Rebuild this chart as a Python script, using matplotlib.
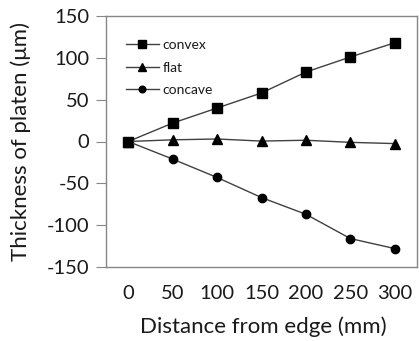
import numpy as np
import matplotlib.pyplot as plt

plt.rcParams['font.family'] = ['Lato', 'DejaVu Sans']
plt.rcParams['axes.unicode_minus'] = False

distance = [0, 50, 100, 150, 200, 250, 300]
convex = [0, 22, 40, 58, 83, 101, 118]
flat = [0, 2, 3, 0.5, 1.5, -1, -2.5]
concave = [0, -21, -43, -67, -87, -116, -128]

txt = '#1a1a1a'
grey = '#868686'

fig = plt.figure(figsize=(4.19, 3.41), dpi=100)
ax = fig.add_axes([106 / 419, 1 - 267 / 341, 311 / 419, 251 / 341])

x = np.arange(len(distance))
ax.plot(x, convex, color='#404040', lw=1, marker='s', ms=7.5, mfc='k', mec='k', label='convex')
ax.plot(x, flat, color='#404040', lw=1, marker='^', ms=6.5, mfc='k', mec='k', label='flat')
ax.plot(x, concave, color='#404040', lw=1, marker='o', ms=6, mfc='k', mec='k', label='concave')

ax.set_xlim(-0.5, len(distance) - 0.5)
ax.set_ylim(-150, 150)
ax.set_xticks(x)
ax.set_xticklabels([str(d) for d in distance])
ax.set_yticks(range(-150, 151, 50))

for s in ax.spines.values():
    s.set_color(grey)
    s.set_linewidth(1)
ax.tick_params(axis='y', direction='out', length=7, color=grey, labelsize=14.5, labelcolor=txt, pad=5)
ax.tick_params(axis='x', length=0, labelsize=14.5, labelcolor=txt, pad=13)

ax.set_xlabel('Distance from edge (mm)', fontsize=16, color=txt)
ax.set_ylabel('Thickness of platen (\u03bcm)', fontsize=16, color=txt)
ax.xaxis.set_label_coords((263 - 106) / 311, (267 - 327) / 251)
ax.yaxis.set_label_coords((21 - 106) / 311, 0.5)
ax.xaxis.label.set_va('center')
ax.yaxis.label.set_va('center')

leg = ax.legend(loc='upper left', bbox_to_anchor=(0.045, 0.93), frameon=False,
                fontsize=10, handlelength=2.4, handletextpad=0.25, labelspacing=0.75,
                markerscale=0.8, borderaxespad=0)
for t in leg.get_texts():
    t.set_color(txt)

fig.savefig('out.png', dpi=100)
